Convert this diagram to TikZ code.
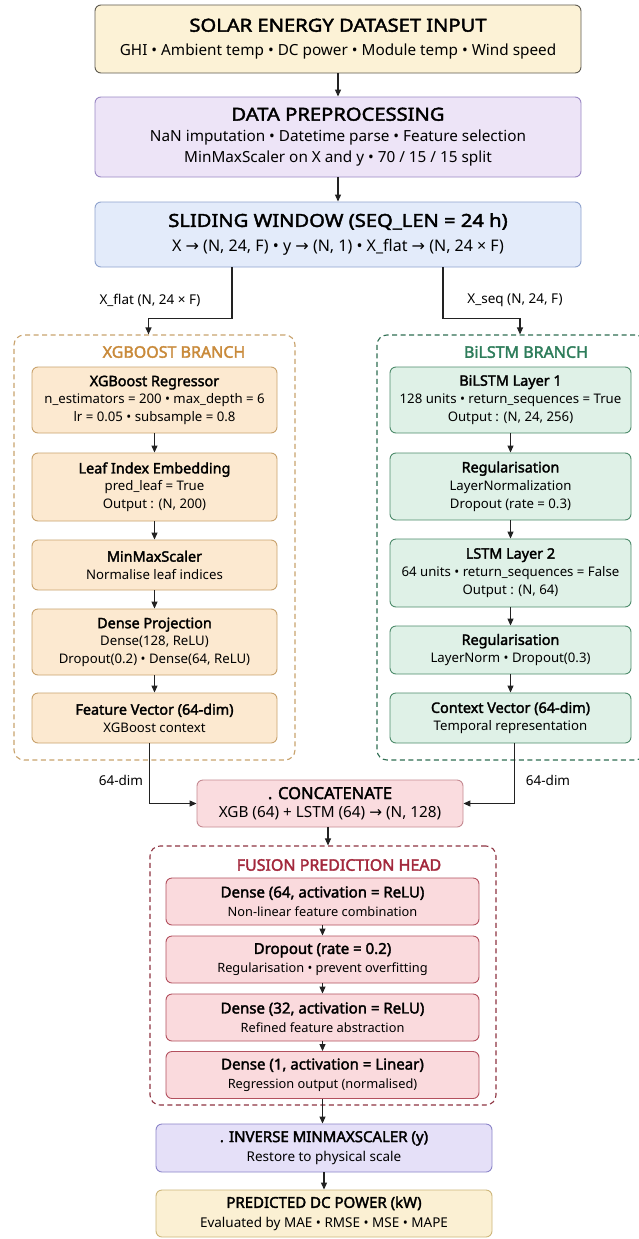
\documentclass[tikz,border=0pt]{standalone}
\usepackage{fontspec}
\setmainfont{Noto Sans}[AutoFakeBold=2.2]
\newfontfamily\titlefont{Noto Sans}[FakeStretch=1.12, AutoFakeBold=2.2]
\newfontfamily\arrowfont{DejaVu Sans}
\usetikzlibrary{arrows.meta}
\newcommand{\toarr}{{\arrowfont →}}
\newcommand{\hd}{\titlefont\bfseries\fontsize{18}{21}\selectfont}
\newcommand{\sd}{\bfseries\fontsize{14.4}{17}\selectfont}
\newcommand{\fd}{\bfseries\fontsize{15}{19}\selectfont}
\definecolor{inputfill}{HTML}{FCF2D6}
\definecolor{inputline}{HTML}{5E5A50}
\definecolor{prepfill}{HTML}{EDE4F7}
\definecolor{prepline}{HTML}{9A88C4}
\definecolor{slidefill}{HTML}{E3EBFA}
\definecolor{slideline}{HTML}{8FA3CE}
\definecolor{xgbfill}{HTML}{FCE9D0}
\definecolor{xgbline}{HTML}{C9A36E}
\definecolor{xgbtitle}{HTML}{C98A3A}
\definecolor{lstmfill}{HTML}{DFF1E7}
\definecolor{lstmline}{HTML}{4E8C6C}
\definecolor{lstmgroup}{HTML}{2F6E52}
\definecolor{lstmtitle}{HTML}{2E7D5B}
\definecolor{catfill}{HTML}{FADCDF}
\definecolor{catline}{HTML}{C58A92}
\definecolor{fusefill}{HTML}{FADADD}
\definecolor{fuseline}{HTML}{B3505E}
\definecolor{fusegroup}{HTML}{8E3442}
\definecolor{fusetitle}{HTML}{A3283C}
\definecolor{invfill}{HTML}{E5E0F8}
\definecolor{invline}{HTML}{8B85C9}
\definecolor{predfill}{HTML}{FBF0D3}
\definecolor{predline}{HTML}{CDB679}
\definecolor{wire}{HTML}{222222}
\begin{document}
\begin{tikzpicture}[x=1pt, y=-1pt,
    box/.style={draw, rounded corners=6pt, line width=0.9pt, align=center, inner sep=0pt},
    mainbox/.style={box, minimum width=486, font=\fontsize{15.3}{21}\selectfont},
    xgbbox/.style={box, fill=xgbfill, draw=xgbline, minimum width=245, font=\fontsize{13.2}{17.5}\selectfont},
    lstmbox/.style={box, fill=lstmfill, draw=lstmline, minimum width=241, font=\fontsize{13.2}{18}\selectfont},
    fusebox/.style={box, fill=fusefill, draw=fuseline, minimum width=313, minimum height=47, font=\fontsize{12.8}{19}\selectfont},
    endbox/.style={box, minimum width=336, minimum height=48, font=\fontsize{13.5}{19.5}\selectfont},
    group/.style={draw, rounded corners=10pt, line width=1.1pt, dash pattern=on 5pt off 3.5pt},
    grptitle/.style={font=\bfseries\fontsize{16}{18}\selectfont},
    lbl/.style={font=\fontsize{13.5}{16}\selectfont},
    arr/.style={draw=wire, line width=1.1pt, -{Triangle[length=7pt,width=6pt]}}]
  \useasboundingbox (0,0) rectangle (638,1239);
  \fill[white] (0,0) rectangle (638,1239);

  \node[mainbox, fill=inputfill, draw=inputline, minimum height=68] (input) at (338,39)
    {{\hd SOLAR ENERGY DATASET INPUT}\\[3pt] GHI • Ambient temp • DC power • Module temp • Wind speed};
  \node[mainbox, fill=prepfill, draw=prepline, minimum height=80] (prep) at (338,137)
    {{\hd DATA PREPROCESSING}\\ NaN imputation • Datetime parse • Feature selection\\ MinMaxScaler on X and y • 70 / 15 / 15 split};
  \node[mainbox, fill=slidefill, draw=slideline, minimum height=65] (slide) at (338,234.5)
    {{\hd SLIDING WINDOW (SEQ\_LEN = 24 h)}\\[4pt] {\fontsize{16}{21}\selectfont X \toarr{} (N, 24, F) • y \toarr{} (N, 1) • X\_flat \toarr{} (N, 24 × F)}};

  \node[group, draw=xgbline, minimum width=281, minimum height=425] (xgb) at (154.5,547.5) {};
  \node[grptitle, text=xgbtitle] (xgbt) at (174,352) {XGBOOST BRANCH};
  \node[xgbbox, minimum height=66] (xreg) at (154.5,400)
    {{\sd XGBoost Regressor}\\ n\_estimators = 200 • max\_depth = 6\\ lr = 0.05 • subsample = 0.8};
  \node[xgbbox, minimum height=68] (xleaf) at (154.5,487)
    {{\sd Leaf Index Embedding}\\ pred\_leaf = True\\ Output : (N, 200)};
  \node[xgbbox, minimum height=50] (xscale) at (154.5,565)
    {{\sd MinMaxScaler}\\ Normalise leaf indices};
  \node[xgbbox, minimum height=66] (xdense) at (154.5,642)
    {{\sd Dense Projection}\\ Dense(128, ReLU)\\ Dropout(0.2) • Dense(64, ReLU)};
  \node[xgbbox, minimum height=50] (xfeat) at (154.5,718)
    {{\sd Feature Vector (64-dim)}\\ XGBoost context};

  \node[group, draw=lstmgroup, minimum width=268, minimum height=425] (lstm) at (511,547.5) {};
  \node[grptitle, text=lstmtitle] (lstmt) at (526,352) {BiLSTM BRANCH};
  \node[lstmbox, minimum height=66] (lone) at (510.5,400)
    {{\sd BiLSTM Layer 1}\\ 128 units • return\_sequences = True\\ Output : (N, 24, 256)};
  \node[lstmbox, minimum height=67] (regone) at (510.5,486.5)
    {{\sd Regularisation}\\ LayerNormalization\\ Dropout (rate = 0.3)};
  \node[lstmbox, minimum height=68] (ltwo) at (510.5,573)
    {{\sd LSTM Layer 2}\\ 64 units • return\_sequences = False\\ Output : (N, 64)};
  \node[lstmbox, minimum height=48] (regtwo) at (510.5,650)
    {{\sd Regularisation}\\ LayerNorm • Dropout(0.3)};
  \node[lstmbox, minimum height=50] (ctx) at (510.5,718)
    {{\sd Context Vector (64-dim)}\\ Temporal representation};

  \node[box, fill=catfill, draw=catline, minimum width=266, minimum height=47, font=\fontsize{15.3}{18.5}\selectfont] (concat) at (330,803.5)
    {{\bfseries\fontsize{16.5}{18.5}\selectfont . CONCATENATE}\\ XGB (64) + LSTM (64) \toarr{} (N, 128)};

  \node[group, draw=fusegroup, minimum width=346, minimum height=259] (fuse) at (323,975.5) {};
  \node[grptitle, text=fusetitle] (fuset) at (339,865) {FUSION PREDICTION HEAD};
  \node[fusebox] (fone) at (322.5,901.5)
    {{\fd Dense (64, activation = ReLU)}\\ Non-linear feature combination};
  \node[fusebox] (ftwo) at (322.5,959.5)
    {{\fd Dropout (rate = 0.2)}\\ Regularisation • prevent overfitting};
  \node[fusebox] (fthree) at (322.5,1017.5)
    {{\fd Dense (32, activation = ReLU)}\\ Refined feature abstraction};
  \node[fusebox] (ffour) at (322.5,1075)
    {{\fd Dense (1, activation = Linear)}\\ Regression output (normalised)};

  \node[endbox, fill=invfill, draw=invline] (inv) at (324,1148)
    {{\fd . INVERSE MINMAXSCALER (y)}\\ Restore to physical scale};
  \node[endbox, fill=predfill, draw=predline, minimum height=47] (pred) at (324,1213.5)
    {{\fd PREDICTED DC POWER (kW)}\\ Evaluated by MAE • RMSE • MSE • MAPE};

  \node[lbl] (flatlbl) at (150,300) {X\_flat (N, 24 × F)};
  \node[lbl] (seqlbl) at (515,300) {X\_seq (N, 24, F)};
  \node[lbl] (xdim) at (121,780) {64-dim};
  \node[lbl] (ldim) at (548,780) {64-dim};

  \draw[arr] (input) -- (prep);
  \draw[arr] (prep) -- (slide);
  \draw[arr] ([xshift=-106pt]slide.south) -- ++(0,51) -| ([xshift=-6pt]xgb.north);
  \draw[arr] ([xshift=105pt]slide.south) -- ++(0,51) -| ([xshift=9pt]lstm.north);
  \draw[arr] (xreg) -- (xleaf);
  \draw[arr] (xleaf) -- (xscale);
  \draw[arr] (xscale) -- (xdense);
  \draw[arr] (xdense) -- (xfeat);
  \draw[arr] (lone) -- (regone);
  \draw[arr] (regone) -- (ltwo);
  \draw[arr] (ltwo) -- (regtwo);
  \draw[arr] (regtwo) -- (ctx);
  \draw[arr] ([xshift=-5pt]xfeat.south) |- (concat.west);
  \draw[arr] ([xshift=4pt]ctx.south) |- (concat.east);
  \draw[arr] ([xshift=-2pt]concat.south) -- ([xshift=-2pt]concat.south |- fuse.north);
  \draw[arr] (fone) -- (ftwo);
  \draw[arr] (ftwo) -- (fthree);
  \draw[arr] (fthree) -- (ffour);
  \draw[arr] (ffour.south) -- (ffour.south |- inv.north);
  \draw[arr] (inv) -- (pred);
\end{tikzpicture}
\end{document}
